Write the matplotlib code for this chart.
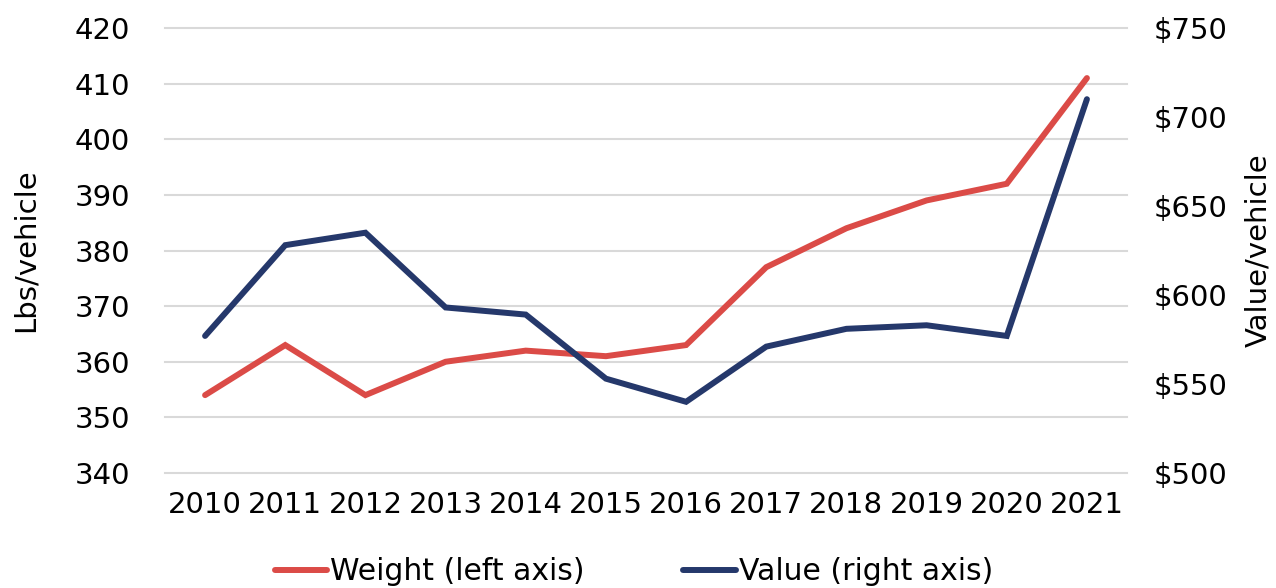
import matplotlib
matplotlib.use("Agg")
import matplotlib.pyplot as plt
from matplotlib.ticker import FuncFormatter, MultipleLocator

years = ["2010", "2011", "2012", "2013", "2014", "2015", "2016", "2017", "2018", "2019", "2020", "2021"]
weight = [354, 363, 354, 360, 362, 361, 363, 377, 384, 389, 392, 411]
value = [577, 628, 635, 593, 589, 553, 540, 571, 581, 583, 577, 710]

red = "#DB4B47"
navy = "#25386B"

plt.rcParams['font.family'] = ['DejaVu Sans']
fig = plt.figure(figsize=(12.76, 5.88), dpi=100)
ax = fig.add_axes([165/1276, 1-473/588, (1127-165)/1276, (473-28)/588])
ax2 = ax.twinx()

x = list(range(len(years)))
l1, = ax.plot(x, weight, color=red, lw=4.3, solid_capstyle='round', solid_joinstyle='miter', label="Weight (left axis)", zorder=3)
l2, = ax2.plot(x, value, color=navy, lw=4.3, solid_capstyle='round', solid_joinstyle='miter', label="Value (right axis)", zorder=3)

ax.set_xlim(-0.5, len(years)-0.5)
ax.set_ylim(340, 420)
ax2.set_ylim(500, 750)
ax.yaxis.set_major_locator(MultipleLocator(10))
ax2.yaxis.set_major_locator(MultipleLocator(50))
ax2.yaxis.set_major_formatter(FuncFormatter(lambda v, p: f"${v:.0f}"))
ax.set_xticks(x)
ax.set_xticklabels(years)

ax.grid(axis='y', color='#D9D9D9', lw=1.5)
for g in ax.yaxis.get_gridlines():
    g.set_clip_on(False)
ax.set_axisbelow(True)
for a in (ax, ax2):
    for s in a.spines.values():
        s.set_visible(False)
    a.tick_params(length=0, labelsize=21, colors='black')
ax.tick_params(axis='y', pad=25)
ax2.tick_params(axis='y', pad=19)
ax.tick_params(axis='x', pad=13)

ax.set_ylabel("Lbs/vehicle", fontsize=21, va='center')
ax.yaxis.set_label_coords((26-165)/(1127-165), 0.5)
ax2.set_ylabel("Value/vehicle", fontsize=21, rotation=90, va='center')
ax2.yaxis.set_label_coords((1258-165)/(1127-165), 0.5)

fig.legend(handles=[l1, l2], loc='center', bbox_to_anchor=(634/1276, 1-572/588), ncol=2,
           frameon=False, fontsize=21.5, handlelength=1.75, handletextpad=0.1, columnspacing=3.3)

fig.savefig("out.png", dpi=100)
